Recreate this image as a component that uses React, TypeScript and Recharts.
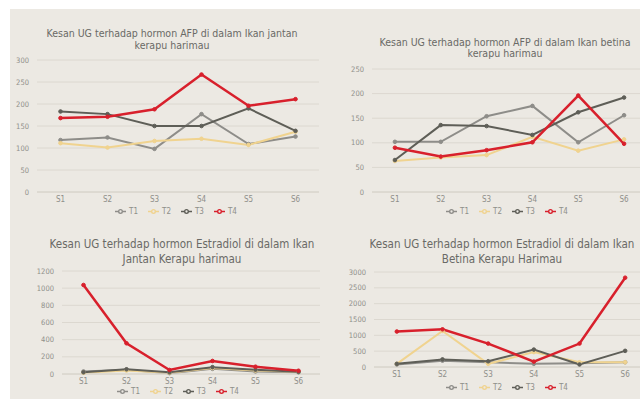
import React from 'react';
import { LineChart, Line, XAxis, YAxis, CartesianGrid, Legend } from 'recharts';

const categories = ['S1', 'S2', 'S3', 'S4', 'S5', 'S6'];
const seriesNames = ['T1', 'T2', 'T3', 'T4'];

// Panel 1: AFP, ikan jantan
const afpJantanT1 = [118, 124, 98, 177, 109, 126];
const afpJantanT2 = [111, 101, 116, 121, 107, 137];
const afpJantanT3 = [183, 177, 150, 150, 190, 139];
const afpJantanT4 = [168, 171, 188, 267, 196, 211];
const afpJantanTicks = [0, 50, 100, 150, 200, 250, 300];

// Panel 2: AFP, ikan betina
const afpBetinaT1 = [102, 102, 154, 175, 101, 156];
const afpBetinaT2 = [63, 70, 75, 112, 84, 107];
const afpBetinaT3 = [65, 136, 134, 116, 162, 192];
const afpBetinaT4 = [90, 72, 85, 101, 196, 98];
const afpBetinaTicks = [0, 50, 100, 150, 200, 250];

// Panel 3: Estradiol, ikan jantan
const e2JantanT1 = [30, 50, 10, 60, 30, 20];
const e2JantanT2 = [15, 40, 15, 70, 40, 25];
const e2JantanT3 = [20, 55, 20, 80, 50, 25];
const e2JantanT4 = [1037, 358, 47, 152, 85, 38];
const e2JantanTicks = [0, 200, 400, 600, 800, 1000, 1200];

// Panel 4: Estradiol, ikan betina
const e2BetinaT1 = [80, 200, 150, 100, 120, 150];
const e2BetinaT2 = [100, 1140, 100, 470, 150, 150];
const e2BetinaT3 = [100, 240, 180, 550, 80, 510];
const e2BetinaT4 = [1120, 1190, 740, 170, 740, 2820];
const e2BetinaTicks = [0, 500, 1000, 1500, 2000, 2500, 3000];

const colors = ['#8e8d89', '#f0d38f', '#5e5e57', '#d8202c'];
const widths = [2, 2, 2, 2.5];

function build(series: number[][]) {
  return categories.map((c, i) => {
    const row: Record<string, string | number> = { name: c };
    seriesNames.forEach((s, k) => {
      row[s] = series[k][i];
    });
    return row;
  });
}

const FONT = '"Liberation Sans Narrow", "DejaVu Sans Condensed", "Liberation Sans", sans-serif';

type PanelProps = {
  left: number;
  top: number;
  width: number;
  height: number;
  margin: { top: number; right: number; bottom: number; left: number };
  yWidth: number;
  xHeight: number;
  legendHeight: number;
  legendLeft: number;
  series: number[][];
  ticks: number[];
};

function Panel(p: PanelProps) {
  const data = build(p.series);
  const plotW = p.width - p.margin.left - p.margin.right - p.yWidth;
  const half = plotW / categories.length / 2;
  return (
    <div style={{ position: 'absolute', left: p.left, top: p.top, width: p.width, height: p.height }}>
      <LineChart width={p.width} height={p.height} data={data} margin={p.margin}>
        <CartesianGrid horizontal vertical={false} stroke="#dcd8d0" strokeWidth={1} />
        <XAxis
          dataKey="name"
          axisLine={{ stroke: '#d6d2ca' }}
          tickLine={false}
          tickSize={0}
          tickMargin={4}
          height={p.xHeight}
          padding={{ left: half, right: half }}
          tick={{ fontSize: 8, fill: '#8f8f8a', fontFamily: FONT }}
          interval={0}
        />
        <YAxis
          width={p.yWidth}
          domain={[p.ticks[0], p.ticks[p.ticks.length - 1]]}
          ticks={p.ticks}
          axisLine={false}
          tickLine={false}
          tickSize={0}
          tickMargin={8}
          tick={{ fontSize: 7.5, fill: '#8f8f8a', fontFamily: FONT }}
          interval={0}
        />
        <Legend
          verticalAlign="bottom"
          height={p.legendHeight}
          iconType="line"
          iconSize={11}
          wrapperStyle={{ fontSize: 8, fontFamily: FONT, color: '#8f8f8a', lineHeight: '10px', left: p.legendLeft, width: 'auto' }}
          formatter={(v: string) => <span style={{ color: '#8f8f8a', marginLeft: -1 }}>{v}</span>}
        />
        {seriesNames.map((s, k) => (
          <Line
            key={s}
            type="linear"
            dataKey={s}
            stroke={colors[k]}
            strokeWidth={widths[k]}
            dot={{ r: 1.8, fill: colors[k], stroke: colors[k], strokeWidth: 1 }}
            activeDot={false}
            isAnimationActive={false}
          />
        ))}
      </LineChart>
    </div>
  );
}

function Title(props: { cx: number; top: number; size: number; lines: string[]; lh: number }) {
  return (
    <div
      style={{
        position: 'absolute',
        left: props.cx - 160,
        top: props.top,
        width: 320,
        textAlign: 'center',
        fontFamily: FONT,
        fontSize: props.size,
        lineHeight: props.lh + 'px',
        color: '#6a6a66',
        whiteSpace: 'nowrap',
      }}
    >
      {props.lines.map((l, i) => (
        <div key={i}>{l}</div>
      ))}
    </div>
  );
}

export default function App() {
  return (
    <div style={{ position: 'fixed', left: 0, top: 0, width: 640, height: 399, background: '#ffffff', overflow: 'hidden' }}>
      <div style={{ position: 'absolute', left: 10, top: 9, width: 630, height: 390, background: '#ece9e3' }} />
      <Title cx={172} top={27} size={10.5} lh={12} lines={['Kesan UG terhadap hormon AFP di dalam Ikan jantan', 'kerapu harimau']} />
      <Title cx={505} top={37} size={10.5} lh={11} lines={['Kesan UG terhadap hormon AFP di dalam Ikan betina', 'kerapu harimau']} />
      <Title cx={182} top={237} size={11.5} lh={15} lines={['Kesan UG terhadap hormon Estradiol di dalam Ikan', 'Jantan Kerapu harimau']} />
      <Title cx={502} top={237} size={11.5} lh={15} lines={['Kesan UG terhadap hormon Estradiol di dalam Ikan', 'Betina Kerapu Harimau']} />
      <Panel
        left={0}
        top={0}
        width={330}
        height={222}
        margin={{ top: 60, right: 11, bottom: 2, left: 0 }}
        yWidth={37}
        xHeight={14}
        legendHeight={14}
        legendLeft={115}
        series={[afpJantanT1, afpJantanT2, afpJantanT3, afpJantanT4]}
        ticks={afpJantanTicks}
      />
      <Panel
        left={330}
        top={0}
        width={317}
        height={222}
        margin={{ top: 69, right: 0, bottom: 2, left: 0 }}
        yWidth={42}
        xHeight={14}
        legendHeight={14}
        legendLeft={116}
        series={[afpBetinaT1, afpBetinaT2, afpBetinaT3, afpBetinaT4]}
        ticks={afpBetinaTicks}
      />
      <Panel
        left={0}
        top={230}
        width={320}
        height={169}
        margin={{ top: 41, right: 0, bottom: 1, left: 0 }}
        yWidth={62}
        xHeight={12}
        legendHeight={12}
        legendLeft={117}
        series={[e2JantanT1, e2JantanT2, e2JantanT3, e2JantanT4]}
        ticks={e2JantanTicks}
      />
      <Panel
        left={330}
        top={230}
        width={318}
        height={169}
        margin={{ top: 42, right: 0, bottom: 3, left: 0 }}
        yWidth={44}
        xHeight={15}
        legendHeight={14}
        legendLeft={116}
        series={[e2BetinaT1, e2BetinaT2, e2BetinaT3, e2BetinaT4]}
        ticks={e2BetinaTicks}
      />
    </div>
  );
}
